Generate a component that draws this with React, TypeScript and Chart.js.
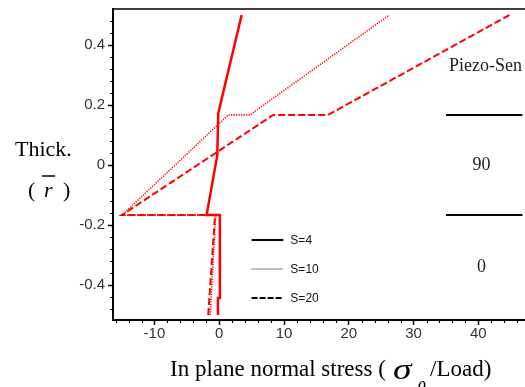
import React, { useEffect, useRef } from 'react';
import { Chart, registerables } from 'chart.js';

Chart.register(...registerables);

// ---- data ----
const seriesLabels = ['S=4', 'S=10', 'S=20'];
const s4X = [-0.2, -0.2, 0.1, 0.1, -1.95, -0.3, -0.15, 3.46];
const s4Y = [-0.5, -0.443, -0.443, -0.167, -0.167, 0.033, 0.173, 0.5];
const s10X = [-1.4, -0.55, -15.0, 1.4, 4.74, 26.25];
const s10Y = [-0.5, -0.167, -0.167, 0.167, 0.167, 0.5];
const s20X = [-1.7, -0.65, -15.05, 8.34, 16.8, 44.8];
const s20Y = [-0.5, -0.167, -0.167, 0.167, 0.167, 0.5];
const sensorLineX = [35, 46.8];
const sensorLineY = [0.167, -0.167];
const layerLabels = ['90', '0'];
const layerLabelY = [0, -0.34];
const sensorTitle = 'Piezo-Sen';
const xMajorTicks = [-10, 0, 10, 20, 30, 40];
const xTickLabels = ['-10', '0', '10', '20', '30', '40'];
const yMajorTicks = [-0.4, -0.2, 0, 0.2, 0.4];
const yTickLabels = ['-0.4', '-0.2', '0', '0.2', '0.4'];
const xRange = [-16.4, 47.2];
const yRange = [-0.5166, 0.52];

const zip = (xs: number[], ys: number[]) => xs.map((v, i) => ({ x: v, y: ys[i] }));

const legendStyles = [
  { dash: [] as number[], w: 2 },
  { dash: [1, 1], w: 1 },
  { dash: [6, 2], w: 2 },
];

const decorPlugin = {
  id: 'decor',
  afterDraw(chart: any) {
    const { ctx, chartArea: a, scales } = chart;
    const x = scales.x;
    const y = scales.y;
    ctx.save();
    // top frame line
    ctx.strokeStyle = '#000';
    ctx.lineWidth = 1.5;
    ctx.beginPath();
    ctx.moveTo(a.left, a.top);
    ctx.lineTo(a.right, a.top);
    ctx.stroke();
    // minor ticks
    ctx.lineWidth = 1;
    ctx.beginPath();
    for (let v = -16; v <= 46; v += 2) {
      if (v % 10 === 0) continue;
      const px = Math.round(x.getPixelForValue(v)) + 0.5;
      ctx.moveTo(px, a.bottom);
      ctx.lineTo(px, a.bottom + 3);
    }
    for (let i = -12; i <= 12; i++) {
      if (i % 5 === 0) continue;
      const py = Math.round(y.getPixelForValue(i * 0.04)) + 0.5;
      ctx.moveTo(a.left, py);
      ctx.lineTo(a.left - 3, py);
    }
    ctx.stroke();

    // legend
    const lx0 = x.getPixelForValue(5.0);
    const lx1 = x.getPixelForValue(9.9);
    const legendRows = [-0.25, -0.348, -0.442];
    ctx.font = '12px "Liberation Sans", Arial, sans-serif';
    ctx.textBaseline = 'middle';
    ctx.textAlign = 'left';
    seriesLabels.forEach((lab, i) => {
      const py = Math.round(y.getPixelForValue(legendRows[i]));
      ctx.strokeStyle = '#000';
      ctx.lineWidth = legendStyles[i].w;
      ctx.setLineDash(legendStyles[i].dash);
      ctx.beginPath();
      ctx.moveTo(lx0, py);
      ctx.lineTo(lx1, py);
      ctx.stroke();
      ctx.setLineDash([]);
      ctx.fillStyle = '#111';
      ctx.fillText(lab, lx1 + 7, py + 1);
    });

    // sensor annotations
    ctx.fillStyle = '#222';
    ctx.textAlign = 'center';
    ctx.font = '18px "Liberation Serif", "Times New Roman", serif';
    const cx = x.getPixelForValue(40.5);
    layerLabels.forEach((lab, i) => {
      ctx.fillText(lab, cx, y.getPixelForValue(layerLabelY[i]));
    });
    ctx.textAlign = 'left';
    ctx.fillText(sensorTitle, 449, y.getPixelForValue(0.328));

    // y axis title
    ctx.fillStyle = '#000';
    ctx.textBaseline = 'alphabetic';
    ctx.font = '22px "Liberation Serif", "Times New Roman", serif';
    ctx.fillText('Thick.', 15, 156);
    ctx.fillText('(', 28, 197);
    ctx.fillText(')', 63, 197);
    ctx.font = 'italic 22px "Liberation Serif", "Times New Roman", serif';
    ctx.fillText('r', 44, 197);
    ctx.lineWidth = 1.5;
    ctx.strokeStyle = '#000';
    ctx.beginPath();
    ctx.moveTo(42, 176);
    ctx.lineTo(55, 176);
    ctx.stroke();

    // x axis title
    ctx.font = '23px "Liberation Serif", "Times New Roman", serif';
    ctx.fillText('In plane normal stress (', 170, 376);
    ctx.fillText('/Load)', 430, 376);
    ctx.save();
    ctx.translate(393, 379);
    ctx.scale(1.25, 1);
    ctx.font = 'italic 30px "Liberation Serif", "Times New Roman", serif';
    ctx.fillText('\u03c3', 0, 0);
    ctx.restore();
    ctx.font = 'italic 18px "Liberation Serif", "Times New Roman", serif';
    ctx.fillText('\u03b8', 417, 394);
    ctx.restore();
  },
};

export default function App() {
  const ref = useRef<HTMLCanvasElement | null>(null);
  useEffect(() => {
    if (!ref.current) return;
    Chart.defaults.font.family = '"Liberation Sans", Arial, sans-serif';
    const red = '#ff0000';
    const chart = new Chart(ref.current, {
      type: 'scatter',
      data: {
        datasets: [
          {
            label: seriesLabels[0],
            data: zip(s4X, s4Y),
            showLine: true,
            borderColor: red,
            borderWidth: 2.5,
            pointRadius: 0,
          },
          {
            label: seriesLabels[1],
            data: zip(s10X, s10Y),
            showLine: true,
            borderColor: red,
            borderWidth: 1.6,
            borderDash: [1.2, 1.3],
            pointRadius: 0,
          },
          {
            label: seriesLabels[2],
            data: zip(s20X, s20Y),
            showLine: true,
            borderColor: red,
            borderWidth: 2,
            borderDash: [7, 3],
            pointRadius: 0,
          },
          {
            label: 'sensor-top',
            data: zip(sensorLineX, [sensorLineY[0], sensorLineY[0]]),
            showLine: true,
            borderColor: '#000',
            borderWidth: 2,
            pointRadius: 0,
          },
          {
            label: 'sensor-bottom',
            data: zip(sensorLineX, [sensorLineY[1], sensorLineY[1]]),
            showLine: true,
            borderColor: '#000',
            borderWidth: 2,
            pointRadius: 0,
          },
        ],
      },
      options: {
        animation: false,
        responsive: false,
        devicePixelRatio: 1,
        layout: { padding: { left: 0, right: 0, top: 9, bottom: 0 } },
        plugins: { legend: { display: false }, tooltip: { enabled: false } },
        scales: {
          x: {
            type: 'linear',
            min: xRange[0],
            max: xRange[1],
            afterBuildTicks: (s: any) => {
              s.ticks = xMajorTicks.map((v) => ({ value: v }));
            },
            afterFit: (s: any) => {
              s.height = 67;
              s.paddingLeft = 0;
              s.paddingRight = 0;
            },
            ticks: {
              color: '#333',
              font: { size: 15 },
              padding: 0,
              maxRotation: 0,
              callback: (v: any) => {
                const i = xMajorTicks.indexOf(Number(v));
                return i >= 0 ? xTickLabels[i] : '';
              },
            },
            grid: { display: true, drawOnChartArea: false, drawTicks: true, tickLength: 5, tickColor: '#000', tickWidth: 1.5 },
            border: { display: true, color: '#000', width: 2 },
          },
          y: {
            type: 'linear',
            min: yRange[0],
            max: yRange[1],
            afterBuildTicks: (s: any) => {
              s.ticks = yMajorTicks.map((v) => ({ value: v }));
            },
            afterFit: (s: any) => {
              s.width = 113;
              s.paddingTop = 0;
              s.paddingBottom = 0;
            },
            ticks: {
              color: '#333',
              font: { size: 15 },
              padding: 3,
              callback: (v: any) => {
                const i = yMajorTicks.findIndex((t) => Math.abs(t - Number(v)) < 1e-9);
                return i >= 0 ? yTickLabels[i] : '';
              },
            },
            grid: { display: true, drawOnChartArea: false, drawTicks: true, tickLength: 5, tickColor: '#000', tickWidth: 1.5 },
            border: { display: true, color: '#000', width: 2 },
          },
        },
      },
      plugins: [decorPlugin],
    } as any);
    return () => chart.destroy();
  }, []);
  return (
    <div style={{ position: 'absolute', left: 0, top: 0, width: 525, height: 387, background: '#fff' }}>
      <canvas ref={ref} width={525} height={387} />
    </div>
  );
}
